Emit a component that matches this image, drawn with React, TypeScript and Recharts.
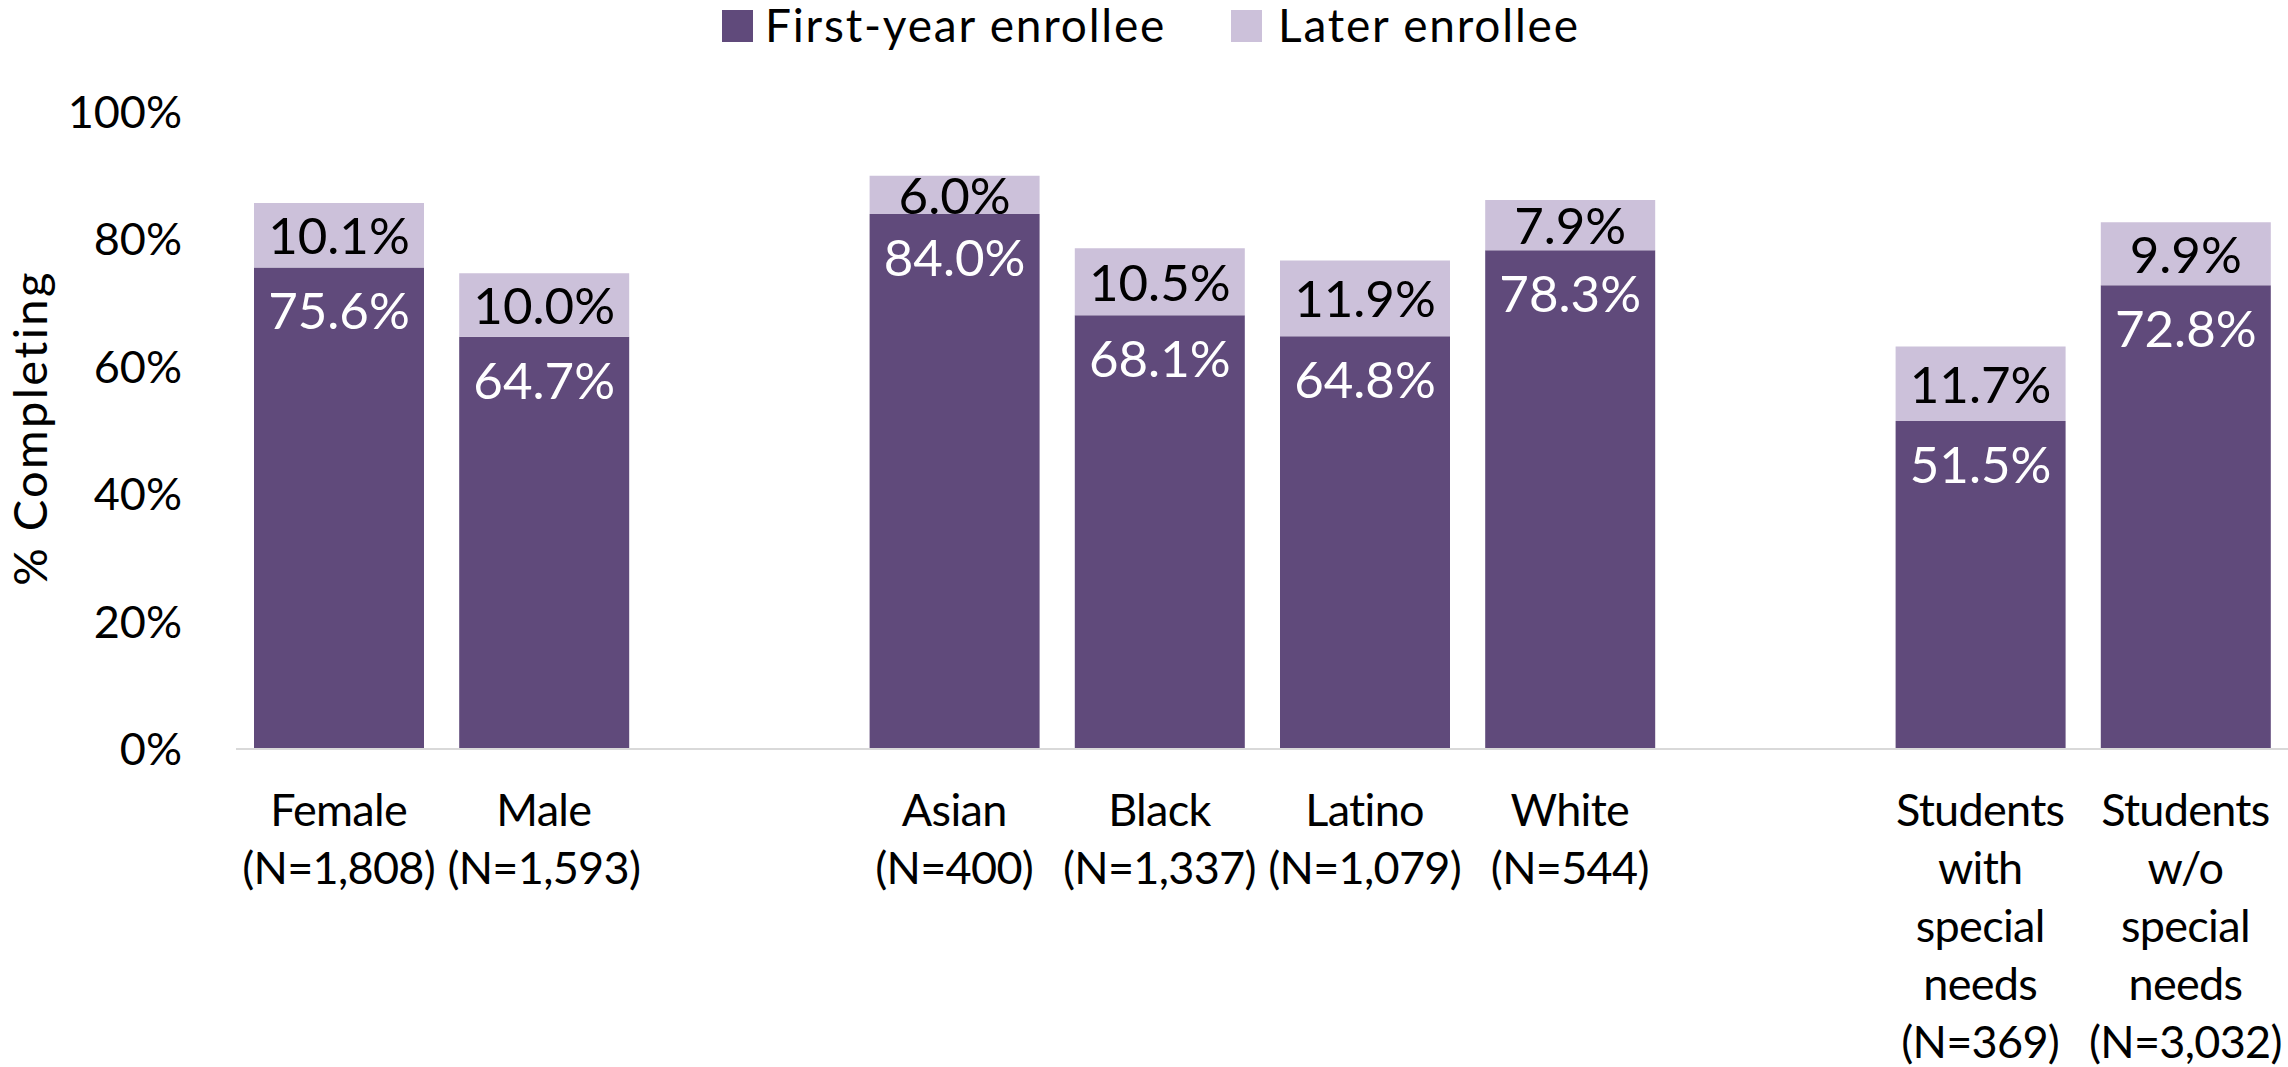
import { BarChart, Bar, XAxis, YAxis, Legend, LabelList, Label } from "recharts";

const categories = [
  "Female",
  "Male",
  "gap1",
  "Asian",
  "Black",
  "Latino",
  "White",
  "gap2",
  "Students with special needs",
  "Students w/o special needs",
];

const tickLines: string[][] = [
  ["Female", "(N=1,808)"],
  ["Male", "(N=1,593)"],
  [],
  ["Asian", "(N=400)"],
  ["Black", "(N=1,337)"],
  ["Latino", "(N=1,079)"],
  ["White", "(N=544)"],
  [],
  ["Students", "with", "special", "needs", "(N=369)"],
  ["Students", "w/o", "special", "needs", "(N=3,032)"],
];

const firstYear = [75.6, 64.7, null, 84.0, 68.1, 64.8, 78.3, null, 51.5, 72.8];
const later = [10.1, 10.0, null, 6.0, 10.5, 11.9, 7.9, null, 11.7, 9.9];

const yTicks = [0, 20, 40, 60, 80, 100];

const rows = categories.map((name, i) => ({
  name,
  firstYear: firstYear[i],
  later: later[i],
}));

const FONT = "Lato, 'Open Sans', sans-serif";
const DARK = "#604A7B";
const LIGHT = "#CCC1DA";

const XTick = (props: any) => {
  const { x, y, payload } = props;
  const idx = categories.indexOf(payload.value);
  const lines = idx >= 0 ? tickLines[idx] : [];
  return (
    <text
      x={x}
      y={y}
      textAnchor="middle"
      fontFamily={FONT}
      fontSize={45}
      letterSpacing={-0.7}
      fill="#000"
    >
      {lines.map((l, i) => (
        <tspan key={i} x={x} y={y + 77 + i * 58}>
          {l}
        </tspan>
      ))}
    </text>
  );
};

const FirstLabel = (props: any) => {
  const { x, y, width, value } = props;
  if (value == null) return null;
  return (
    <text
      x={x + width / 2}
      y={y + 62}
      textAnchor="middle"
      fontFamily={FONT}
      fontSize={51}
      fill="#ffffff"
    >
      {Number(value).toFixed(1)}%
    </text>
  );
};

const LaterLabel = (props: any) => {
  const { x, y, width, height, value } = props;
  if (value == null) return null;
  return (
    <text
      x={x + width / 2}
      y={y + height / 2 + 19}
      textAnchor="middle"
      fontFamily={FONT}
      fontSize={51}
      fill="#000000"
    >
      {Number(value).toFixed(1)}%
    </text>
  );
};

const legendText = {
  position: "absolute" as const,
  top: -2,
  lineHeight: "54px",
  whiteSpace: "nowrap" as const,
  letterSpacing: 1.8,
};

const renderLegend = () => (
  <div style={{ position: "relative", height: 60, fontFamily: FONT, fontSize: 46, color: "#000" }}>
    <div style={{ position: "absolute", left: 722, top: 10, width: 31, height: 32, background: DARK }} />
    <div style={{ ...legendText, left: 765 }}>First-year enrollee</div>
    <div style={{ position: "absolute", left: 1231, top: 10, width: 31, height: 32, background: LIGHT }} />
    <div style={{ ...legendText, left: 1278 }}>Later enrollee</div>
  </div>
);

export default function App() {
  return (
    <div style={{ position: "absolute", left: 0, top: 0, background: "#fff" }}>
      <BarChart
        width={2288}
        height={1067}
        data={rows}
        margin={{ top: 52, right: 0, left: 0, bottom: 0 }}
        barSize={170}
      >
        <Legend
          verticalAlign="top"
          content={renderLegend}
          wrapperStyle={{ position: "absolute", top: 0, left: 0, width: 2288, height: 60 }}
        />
        <XAxis
          dataKey="name"
          interval={0}
          height={318}
          tickSize={0}
          tickMargin={0}
          tick={<XTick />}
          axisLine={{ stroke: "#D9D9D9", strokeWidth: 2 }}
          tickLine={false}
        />
        <YAxis
          width={236}
          domain={[0, 100]}
          ticks={yTicks}
          tickFormatter={(v: number) => `${v}%`}
          tickSize={0}
          tickMargin={54}
          axisLine={false}
          tickLine={false}
          tick={{ fontFamily: FONT, fontSize: 45, fill: "#000" }}
        >
          <Label
            content={() => (
              <text
                x={47}
                y={428}
                transform="rotate(-90 47 428)"
                textAnchor="middle"
                fontFamily={FONT}
                fontSize={47}
                letterSpacing={2.4}
                fill="#000"
              >
                % Completing
              </text>
            )}
          />
        </YAxis>
        <Bar dataKey="firstYear" stackId="a" fill={DARK} isAnimationActive={false}>
          <LabelList dataKey="firstYear" content={<FirstLabel />} />
        </Bar>
        <Bar dataKey="later" stackId="a" fill={LIGHT} isAnimationActive={false}>
          <LabelList dataKey="later" content={<LaterLabel />} />
        </Bar>
      </BarChart>
    </div>
  );
}
